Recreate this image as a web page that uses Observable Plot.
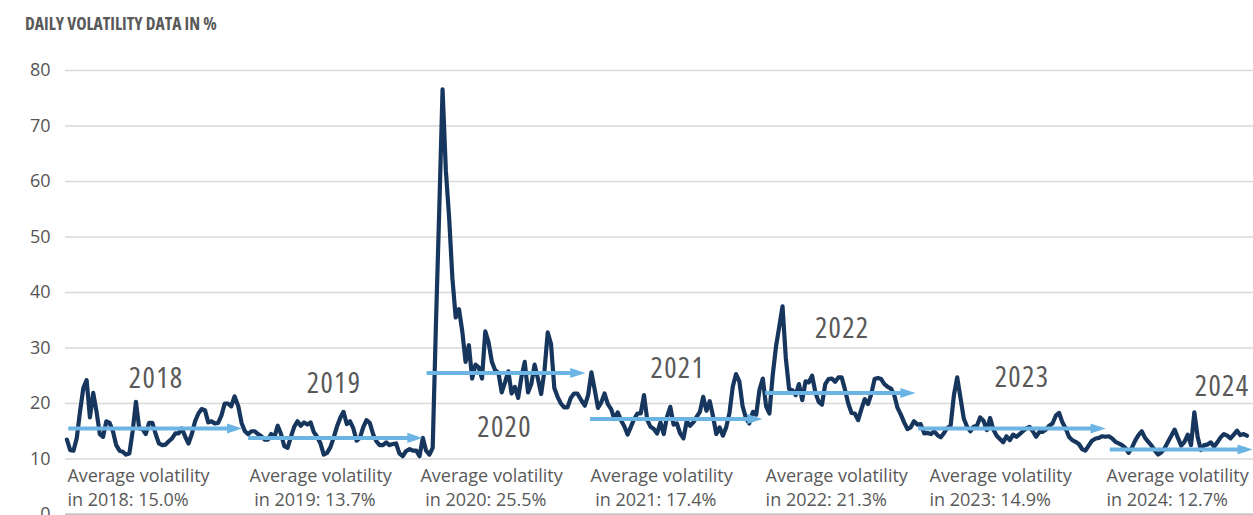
<!DOCTYPE html>
<html>
<head>
<meta charset="utf-8">
<script src="https://cdn.jsdelivr.net/npm/d3@7"></script>
<script src="https://cdn.jsdelivr.net/npm/@observablehq/plot@0.6"></script>
<style>
html, body { margin: 0; padding: 0; background: #fff; overflow: hidden; width: 1253px; height: 515px; }
#title { height: 45px; box-sizing: border-box; padding: 13px 0 0 25px; font-family: "Liberation Sans Narrow", "Open Sans", sans-serif; font-weight: bold; font-size: 17.5px; line-height: 20px; color: #595959; font-stretch: condensed; }
#chart svg { display: block; }
.yearlabel text { font-stretch: 87.5%; letter-spacing: 1.3px; }
</style>
</head>
<body>
<div id="title">DAILY VOLATILITY DATA IN %</div>
<div id="chart"></div>
<script>
// Weekly readings of daily volatility (%), one array per calendar year
const vol2018 = [13.5, 11.6, 11.5, 13.8, 18.6, 22.8, 24.2, 17.5, 21.9, 18.6, 14.5, 14, 16.8, 16.5, 15, 12.5, 11.5, 11.3, 10.8, 11, 15, 20.3, 15.5, 15.4, 14.5, 16.5, 16.5, 14.5, 12.8, 12.5, 12.6, 13.2, 13.7, 14.6, 14.6, 15.5, 14, 12.8, 14.5, 16.8, 18.2, 19, 18.8, 16.6, 16.8, 16.4, 16.5, 17.8, 20, 20, 19.5, 21.3];
const vol2019 = [19.5, 16.5, 15, 14.5, 15, 15, 14.5, 14.1, 13.5, 13.5, 14.5, 14, 16, 14.5, 12.3, 12, 14, 15.8, 16.8, 16, 16.6, 16.2, 16.6, 14.8, 14, 12.8, 10.8, 11.1, 12.1, 13.8, 15.8, 17.4, 18.5, 16.3, 16.8, 15.5, 13.3, 13.8, 15.7, 17, 16.5, 14.5, 13.2, 12.5, 12.5, 13, 12.5, 12.7, 12.8, 11, 10.5, 11.4];
const vol2020 = [11.8, 11.5, 11.5, 10.5, 13.8, 11.5, 10.8, 12, 34.6, 55, 76.6, 62, 53.5, 42.5, 35.5, 37, 33, 27.5, 30.5, 24.5, 27, 26.5, 24.5, 33, 31, 27.5, 26, 25.5, 22, 23.8, 25.8, 21.8, 23, 21, 24.8, 27.5, 22, 23.5, 27, 24.5, 21.7, 25.9, 32.8, 30.7, 22.8, 21.2, 20, 19.3, 19.3, 21, 21.8, 21.8];
const vol2021 = [20.5, 19.6, 21.5, 25.6, 22.5, 19.2, 20.2, 21.8, 19.9, 19, 17.2, 18.4, 17, 15.9, 14.4, 15.8, 17.2, 18.2, 18.2, 21.5, 17, 15.8, 15.4, 14.6, 16.6, 14.5, 17.6, 19.4, 16.2, 16.4, 14.6, 13.7, 16.8, 16, 16.6, 17.6, 18.5, 21.2, 18.7, 20.4, 17.7, 14.5, 15.7, 14.2, 15.7, 18.3, 23, 25.3, 24, 19.5, 17.4, 16.4];
const vol2022 = [18.5, 18, 22.5, 24.5, 19.5, 18.2, 25, 30.2, 33.8, 37.5, 28.2, 22.6, 22.4, 21.5, 23.5, 20.6, 24, 23.8, 25, 22, 20.3, 19.8, 23.5, 24.4, 24.5, 23.9, 24.7, 24.7, 22.5, 20, 18.3, 18.2, 17, 19, 20.8, 19.9, 21.7, 24.4, 24.6, 24.4, 23.5, 23, 22.7, 21.5, 19.2, 18, 16.6, 15.4, 15.7, 16.8, 16.2, 16.3];
const vol2023 = [14.6, 14.7, 14.5, 15, 14.3, 13.9, 14.7, 15.6, 16, 21.5, 24.7, 21, 17.3, 15.8, 15, 15.8, 16, 17.5, 16.9, 15.2, 17.4, 15.3, 14.2, 13.6, 13, 14.1, 13.4, 14.4, 14, 14.5, 15, 15.5, 15.8, 15, 14, 14.9, 14.9, 15.3, 16, 16.4, 17.8, 18.3, 16.6, 15.5, 14, 13.4, 13.1, 12.7, 11.8, 11.5, 12.4, 13.3];
const vol2024 = [13.7, 13.8, 14.1, 14, 14.1, 13.7, 13.1, 12.8, 12.5, 12, 11.1, 12, 13.3, 14.3, 15, 13.8, 13.1, 12.4, 11.5, 10.8, 11.2, 12, 13.1, 14.2, 15.3, 13.8, 12.4, 13.1, 14.4, 12.5, 18.4, 14, 11.6, 12.5, 12.6, 13, 12.2, 13, 13.9, 14.5, 14.2, 13.7, 14.4, 15.1, 14.3, 14.5, 14.2];

const years = [2018, 2019, 2020, 2021, 2022, 2023, 2024];
const volByYear = [vol2018, vol2019, vol2020, vol2021, vol2022, vol2023, vol2024];

// Annual averages (labels) and the arrows drawn for them
const averages = ["15.0", "13.7", "25.5", "17.4", "21.3", "14.9", "12.7"];
const arrowLevel = [15.5, 13.8, 25.5, 17.2, 21.9, 15.5, 11.7];
const arrowStart = ["2018-01-08", "2019-01-26", "2020-02-10", "2021-01-23", "2022-01-31", "2022-12-23", "2024-02-04"];
const arrowEnd = ["2019-01-12", "2020-01-31", "2021-01-12", "2022-01-24", "2022-12-16", "2024-01-25", "2024-12-03"];

// Year caption placement
const yearLabelDate = ["2018-07-13", "2019-07-27", "2020-07-24", "2021-07-28", "2022-07-13", "2023-07-31", "2024-09-29"];
const yearLabelLevel = [24.5, 23.6, 15.6, 26.3, 33.5, 24.6, 23.1];

// Bottom notes
const noteDate = ["2018-01-05", "2019-01-28", "2020-01-27", "2021-01-23", "2022-01-31", "2023-01-15", "2024-01-27"];
const noteLead = ["", "\u00a0", "\u00a0", "\u00a0", "", "", ""];

const yTicks = [0, 10, 20, 30, 40, 50, 60, 70, 80];

const series = years.flatMap((yr, i) =>
  volByYear[i].map((v, k) => ({ date: new Date(Date.UTC(yr, 0, 1 + 7 * k + 3)), vol: v }))
);
const arrows = years.map((yr, i) => ({
  start: new Date(arrowStart[i]),
  end: new Date(arrowEnd[i]),
  shaftEnd: d3.utcDay.offset(new Date(arrowEnd[i]), -12),
  level: arrowLevel[i]
}));
const yearLabels = years.map((yr, i) => ({ date: new Date(yearLabelDate[i]), level: yearLabelLevel[i], text: String(yr) }));
const notes = years.map((yr, i) => ({
  date: new Date(noteDate[i]),
  text: `Average volatility\n${noteLead[i]}in ${yr}: ${averages[i]}%`
}));

const arrowColor = "#6cb4e4";
const textColor = "#595959";

const svg = Plot.plot({
  width: 1253,
  height: 500,
  marginLeft: 65,
  marginRight: 0,
  marginTop: 25,
  marginBottom: 31,
  x: { type: "utc", domain: [new Date("2018-01-01"), new Date("2024-12-05")], axis: null },
  y: { domain: [0, 80], axis: null },
  style: { fontFamily: '"Open Sans", sans-serif', background: "white", overflow: "visible" },
  marks: [
    Plot.gridY(yTicks, { stroke: "#d9d9d9", strokeOpacity: 1, strokeWidth: 1.5 }),
    Plot.axisY(yTicks, { tickSize: 0, tickPadding: 15, fontSize: 18, fill: "#555555", label: null }),
    Plot.ruleY([0], { stroke: "#bfbfbf", strokeWidth: 2 }),
    Plot.line(series, { x: "date", y: "vol", stroke: "#17365d", strokeWidth: 4.2 }),
    Plot.ruleY(arrows, { y: "level", x1: "start", x2: "shaftEnd", stroke: arrowColor, strokeWidth: 4 }),
    Plot.dot(arrows, { x: "end", y: "level", symbol: "triangle", rotate: 90, r: 5, fill: arrowColor, stroke: null, dx: -10 }),
    Plot.text(yearLabels, { x: "date", y: "level", text: "text", fontSize: 29, fill: textColor, textAnchor: "middle", className: "yearlabel" }),
    Plot.text(notes, { x: "date", y: 8.95, text: "text", textAnchor: "start", lineAnchor: "top", lineHeight: 1.333, fontSize: 18, fill: textColor })
  ]
});

// elongate the arrow heads
d3.select(svg).selectAll('g[aria-label="dot"] path').attr("transform", function () {
  return (this.getAttribute("transform") || "") + " scale(0.75,1.3)";
});

document.getElementById("chart").appendChild(svg);
</script>
</body>
</html>
